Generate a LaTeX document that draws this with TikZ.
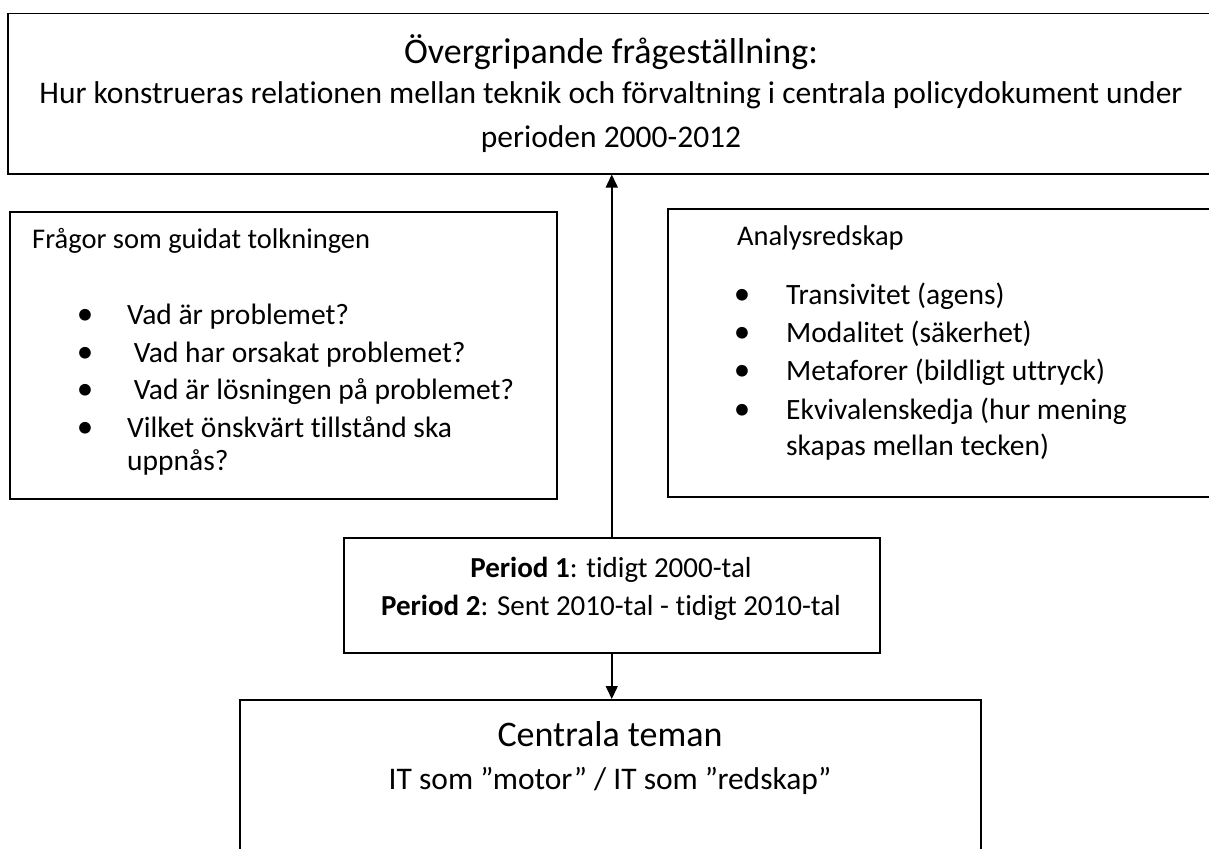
\documentclass[tikz,border=0pt]{standalone}
\usepackage{fontspec}
\setmainfont{Carlito}[Ligatures=NoCommon]
\usetikzlibrary{arrows.meta}
\begin{document}
\begin{tikzpicture}[x=1pt,y=-1pt,
  box/.style={draw, line width=1.5pt, rectangle, inner sep=0pt, anchor=north west},
  arr/.style={line width=1.5pt, -{Triangle[length=13pt,width=12pt]}},
  title/.style={font=\fontsize{36}{40}\selectfont, inner sep=0pt, anchor=base},
  body/.style={font=\fontsize{31.5}{36}\selectfont, inner sep=0pt},
  head/.style={font=\fontsize{28.5}{32}\selectfont, inner sep=0pt, anchor=base west},
  item/.style={font=\fontsize{29.5}{34}\selectfont, inner sep=0pt, anchor=base west},
  bul/.style={font=\fontsize{33}{33}\selectfont, inner sep=0pt, anchor=base},
  per/.style={font=\fontsize{29}{33}\selectfont, inner sep=0pt, anchor=base}
]
\useasboundingbox (0,0) rectangle (1209,848);
\begin{scope}
\clip (0,0) rectangle (1209,848);
% boxes
\node[box, minimum width=1210pt, minimum height=160pt] (top) at (7,13) {};
\node[box, minimum width=547pt, minimum height=287pt] (left) at (9,211) {};
\node[box, minimum width=550pt, minimum height=288pt] (right) at (667,208) {};
\node[box, minimum width=536pt, minimum height=115pt] (period) at (343,537) {};
\node[box, minimum width=741pt, minimum height=160pt] (cent) at (239,699) {};
\end{scope}

% top texts
\node[title] (t1) at (611,64) {Övergripande frågeställning:};
\node[body, anchor=base] (t2) at (611,103) {Hur konstrueras relationen mellan teknik och förvaltning i centrala policydokument under};
\node[body, anchor=base] (t3) at (611,147) {perioden 2000-2012};

% left box
\node[head] (lh) at (32,248) {Frågor som guidat tolkningen};
\node[bul] (lb1) at (85,324) {•};
\node[item] (l1) at (127,324) {Vad är problemet?};
\node[bul] (lb2) at (85,362) {•};
\node[item] (l2) at (127,362) {\ Vad har orsakat problemet?};
\node[bul] (lb3) at (85,399) {•};
\node[item] (l3) at (127,399) {\ Vad är lösningen på problemet?};
\node[bul] (lb4) at (85,437) {•};
\node[item] (l4) at (127,437) {Vilket önskvärt tillstånd ska};
\node[item] (l5) at (127,470) {uppnås?};

% right box
\node[head] (rh) at (737,245) {Analysredskap};
\node[bul] (rb1) at (742,304) {•};
\node[item] (r1) at (786,304) {Transivitet (agens)};
\node[bul] (rb2) at (742,342) {•};
\node[item] (r2) at (786,342) {Modalitet (säkerhet)};
\node[bul] (rb3) at (742,380) {•};
\node[item] (r3) at (786,380) {Metaforer (bildligt uttryck)};
\node[bul] (rb4) at (742,419) {•};
\node[item] (r4) at (786,419) {Ekvivalenskedja (hur mening};
\node[item] (r5) at (786,455) {skapas mellan tecken)};

% period box
\node[per] (p1) at (611,577) {\textbf{Period 1}: tidigt 2000-tal};
\node[per] (p2) at (611,615) {\textbf{Period 2}: Sent 2010-tal - tidigt 2010-tal};

% centrala
\node[title] (c1) at (610,746) {Centrala teman};
\node[body, anchor=base] (c2) at (610,789) {IT som ”motor” / IT som ”redskap”};

% connectors
\draw[arr] (period.north) -- (period.north |- top.south);
\draw[arr] (period.south) -- (period.south |- cent.north);
\end{tikzpicture}
\end{document}
